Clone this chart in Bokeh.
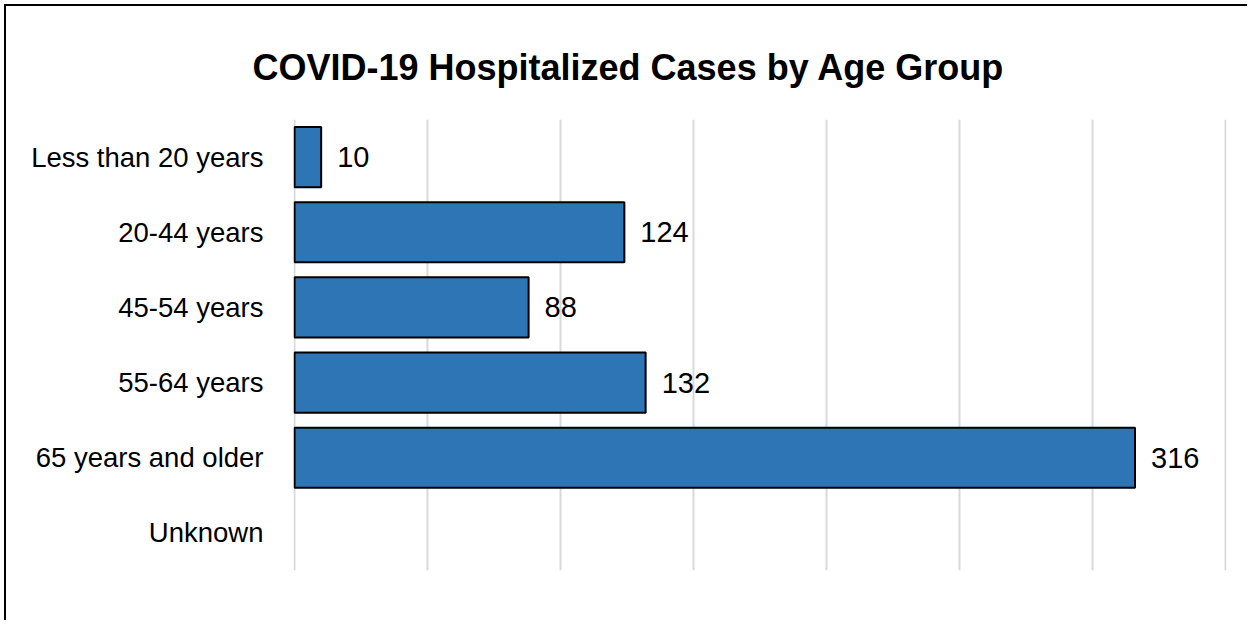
from bokeh.plotting import figure
from bokeh.models import FactorRange, Range1d, FixedTicker, ColumnDataSource
from bokeh.core.properties import value
from bokeh.embed import file_html
from bokeh.resources import INLINE

categories = ["Less than 20 years", "20-44 years", "45-54 years", "55-64 years", "65 years and older", "Unknown"]
cases = [10, 124, 88, 132, 316, None]
x_ticks = [0, 50, 100, 150, 200, 250, 300, 350]

FONT = "Liberation Sans"

src_cats = [c for c, v in zip(categories, cases) if v is not None]
src_vals = [v for v in cases if v is not None]
source = ColumnDataSource(dict(cat=src_cats, val=src_vals, label=[str(v) for v in src_vals]))

p = figure(
    width=1243, height=616,
    y_range=FactorRange(*reversed(categories), range_padding=0),
    x_range=Range1d(-0.4, 350.4),
    output_backend="svg", toolbar_location=None,
    min_border_left=287, min_border_right=23, min_border_top=113, min_border_bottom=52,
    title="COVID-19 Hospitalized Cases by Age Group",
    styles={"border-left": "2px solid black", "border-top": "2px solid black",
            "margin-left": "4px", "margin-top": "4px"},
)
p.title.align = "left"
p.title.offset = -41
p.title.text_font = FONT
p.title.text_font_size = "36px"
p.title.text_font_style = "bold"
p.title.text_color = "black"
p.title.standoff = 63

p.outline_line_color = None
p.background_fill_color = "white"
p.border_fill_color = "white"

p.xaxis.visible = False
p.xgrid.ticker = FixedTicker(ticks=x_ticks)
p.xgrid.grid_line_color = "#d9d9d9"
p.xgrid.grid_line_width = 2
p.ygrid.grid_line_color = None

p.hbar(y="cat", right="val", left=0, height=0.8, source=source,
       fill_color="#2e75b6", line_color="black", line_width=2)
p.text(x="val", y="cat", text="label", source=source, x_offset=16,
       text_baseline="middle", text_align="left",
       text_font=value(FONT), text_font_size="29px", text_color="black")

ya = p.yaxis[0]
ya.axis_line_color = None
ya.major_tick_line_color = None
ya.minor_tick_line_color = None
ya.major_label_text_font = FONT
ya.major_label_text_font_size = "27.5px"
ya.major_label_text_color = "black"
ya.major_label_standoff = 24

open("out.html", "w").write(file_html(p, INLINE))
